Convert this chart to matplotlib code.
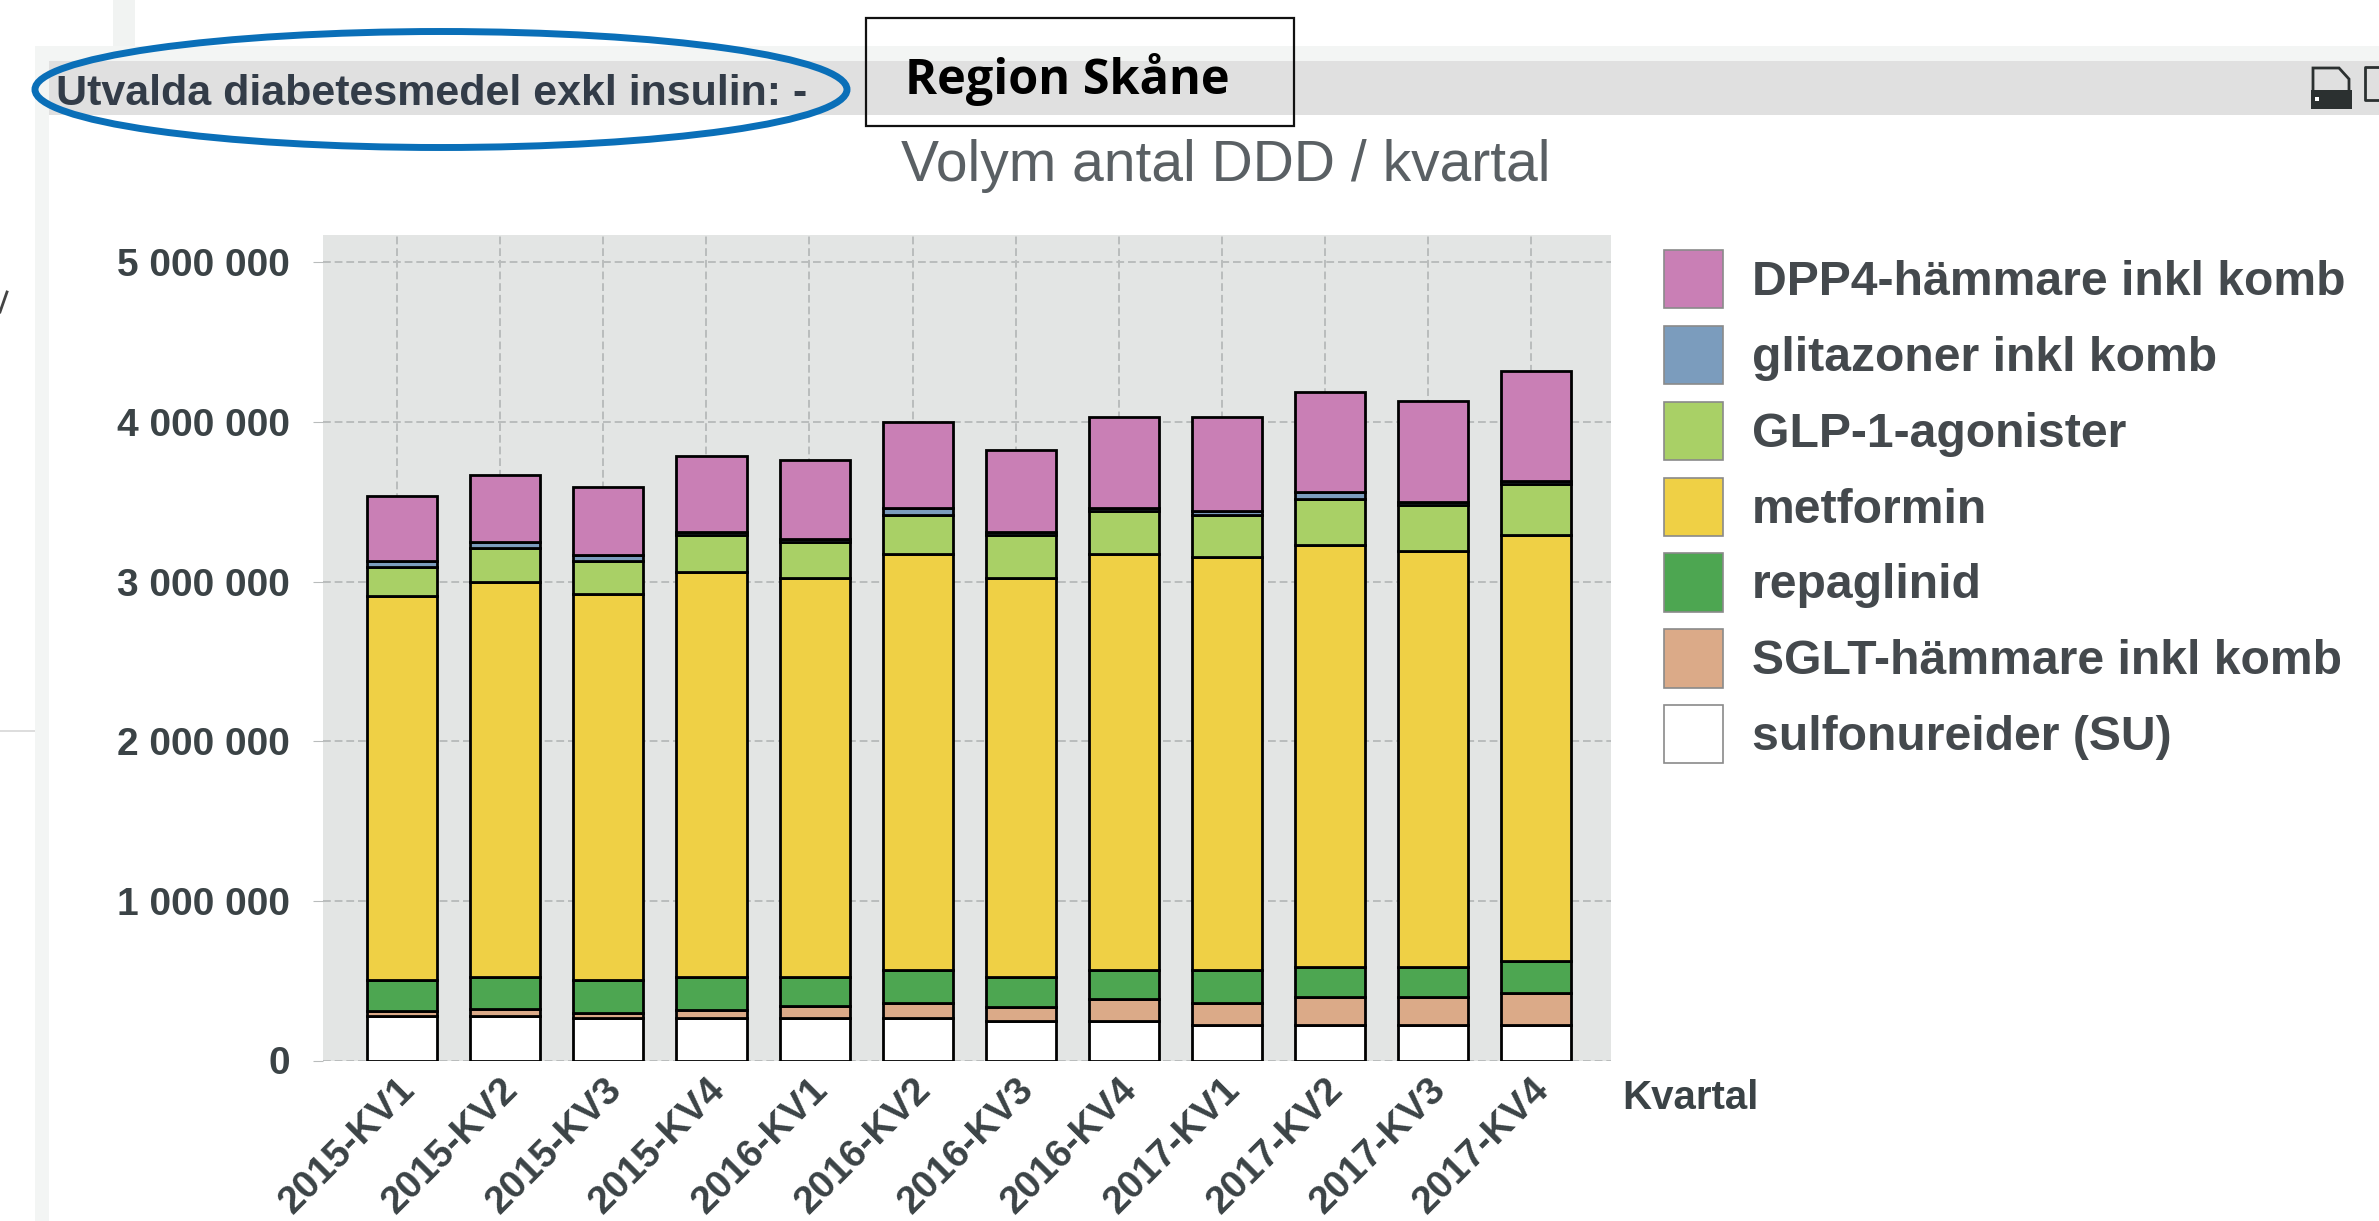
import matplotlib
matplotlib.use("Agg")
import matplotlib.pyplot as plt
from matplotlib.patches import Ellipse, Rectangle, Polygon
from matplotlib.ticker import FuncFormatter
from matplotlib.transforms import ScaledTranslation

W, H = 2379, 1221

kvartal = ["2015-KV1", "2015-KV2", "2015-KV3", "2015-KV4",
           "2016-KV1", "2016-KV2", "2016-KV3", "2016-KV4",
           "2017-KV1", "2017-KV2", "2017-KV3", "2017-KV4"]

# volym per grupp, nerifran och upp i stapeln
su = [280000, 280000, 265000, 265000, 265000, 265000, 245000, 245000, 225000, 225000, 225000, 225000]
sglt = [30000, 40000, 35000, 50000, 75000, 95000, 90000, 140000, 135000, 170000, 170000, 195000]
repaglinid = [195000, 205000, 205000, 210000, 185000, 205000, 190000, 180000, 205000, 190000, 190000, 205000]
metformin = [2405000, 2475000, 2415000, 2535000, 2495000, 2610000, 2495000, 2610000, 2590000, 2645000, 2605000, 2665000]
glp1 = [180000, 210000, 210000, 230000, 230000, 245000, 270000, 265000, 265000, 290000, 290000, 320000]
glitazoner = [40000, 40000, 40000, 20000, 20000, 40000, 20000, 20000, 20000, 40000, 20000, 20000]
dpp4 = [405000, 420000, 425000, 475000, 495000, 540000, 515000, 570000, 590000, 630000, 630000, 690000]

series = [su, sglt, repaglinid, metformin, glp1, glitazoner, dpp4]
namn = ["sulfonureider (SU)", "SGLT-hämmare inkl komb", "repaglinid", "metformin",
        "GLP-1-agonister", "glitazoner inkl komb", "DPP4-hämmare inkl komb"]
farger = ["#ffffff", "#dbaa88", "#4da651", "#efd045", "#a9d066", "#7b9cbd", "#c97fb5"]
y_ticks = [0, 1000000, 2000000, 3000000, 4000000, 5000000]

plt.rcParams["font.family"] = ["Liberation Sans", "DejaVu Sans"]
text_color = "#3b4346"

fig = plt.figure(figsize=(W / 100, H / 100), dpi=100, facecolor="white")

# bakgrund: sidans ramar och rubrikrad, i pixlar
bg = fig.add_axes([0, 0, 1, 1], zorder=0)
bg.set_xlim(0, W)
bg.set_ylim(H, 0)
bg.axis("off")
bg.add_patch(Rectangle((113, 0), 22, 46, fc="#f1f3f2", ec="none"))
bg.add_patch(Rectangle((35, 46), W - 35, 15, fc="#f3f5f4", ec="none"))
bg.add_patch(Rectangle((35, 46), 14, H - 46, fc="#f3f5f4", ec="none"))
bg.add_patch(Rectangle((49, 61), W - 49, 54, fc="#e0e0e0", ec="none"))
bg.add_patch(Rectangle((0, 730), 35, 2, fc="#dddddd", ec="none"))
bg.plot([0, 7], [312, 292], color="#444444", lw=2)

bg.text(56, 94, "Utvalda diabetesmedel exkl insulin: -", fontsize=31, fontweight="bold",
        color="#333c48", va="center", ha="left")
bg.add_patch(Ellipse((441, 89.5), 812, 116, fc="none", ec="#0a6fb8", lw=5))
bg.add_patch(Rectangle((866, 18), 428, 108, fc="none", ec="#111111", lw=1.6))
bg.text(1067, 80, "Region Skåne", fontsize=35, fontweight="bold", color="black",
        family=["Open Sans", "DejaVu Sans"], ha="center", va="center")
bg.text(1226, 166, "Volym antal DDD / kvartal", fontsize=41, color="#5a6064", ha="center", va="center")

# skrivarikon i rubrikraden
bg.add_patch(Polygon([(2313, 100), (2313, 68), (2339, 68), (2349, 79), (2349, 100)],
                     fc="#e0e0e0", ec="#2b3030", lw=2))
bg.add_patch(Rectangle((2311, 90), 41, 19, fc="#2b3030", ec="none"))
bg.add_patch(Rectangle((2315, 97), 4, 4, fc="white", ec="none"))
bg.plot([2379, 2365, 2365, 2379], [67, 67, 100, 100], color="#2b3030", lw=2)

ax = fig.add_axes([323 / W, 1 - 1060.5 / H, 1288 / W, 825.5 / H], zorder=1)
ax.set_facecolor("#e3e5e4")

x = list(range(len(kvartal)))
bar_x = [i + 0.05 for i in x]
bottom = [0] * len(kvartal)
handles = []
for values, label, color in zip(series, namn, farger):
    bars = ax.bar(bar_x, values, 0.68, bottom=bottom, color=color, edgecolor="black",
                  linewidth=2.0, label=label, zorder=3)
    handles.append(bars)
    bottom = [b + v for b, v in zip(bottom, values)]

ax.set_xlim(-0.718, 11.775)
ax.set_ylim(0, 5172000)
ax.set_xticks(x)
ax.set_xticklabels(kvartal, rotation=45, ha="right", rotation_mode="anchor",
                   fontsize=28, color=text_color, fontweight="bold")
ax.set_yticks(y_ticks)
ax.yaxis.set_major_formatter(FuncFormatter(lambda v, p: f"{int(v):,}".replace(",", " ")))
ax.tick_params(axis="y", labelsize=28, labelcolor=text_color, length=7, color="#b9bcbc", pad=17)
ax.tick_params(axis="x", length=0, pad=8)
for lab in ax.get_yticklabels():
    lab.set_fontweight("bold")
ax.grid(True, color="#b9bcbc", linestyle=(0, (4, 2)), linewidth=1.4, zorder=1)
ax.set_axisbelow(True)
for s in ax.spines.values():
    s.set_visible(False)

leg_handles = []
for h in handles[::-1]:
    leg_handles.append(Rectangle((0, 0), 1, 1, fc=h.patches[0].get_facecolor(), ec="#8a8a8a", lw=1.2))
fig.legend(leg_handles, namn[::-1], loc="upper left", bbox_to_anchor=(1664 / W, 1 - 250 / H),
           bbox_transform=fig.transFigure, frameon=False, borderpad=0, borderaxespad=0,
           handlelength=1.22, handleheight=1.49, handletextpad=0.6, labelspacing=0.36,
           prop={"size": 34.7, "weight": "bold"}, labelcolor="#44494d")

bg.text(1622, 1098, "Kvartal", fontsize=29, fontweight="bold", color=text_color, va="center")

fig.savefig("out.png", dpi=100)
